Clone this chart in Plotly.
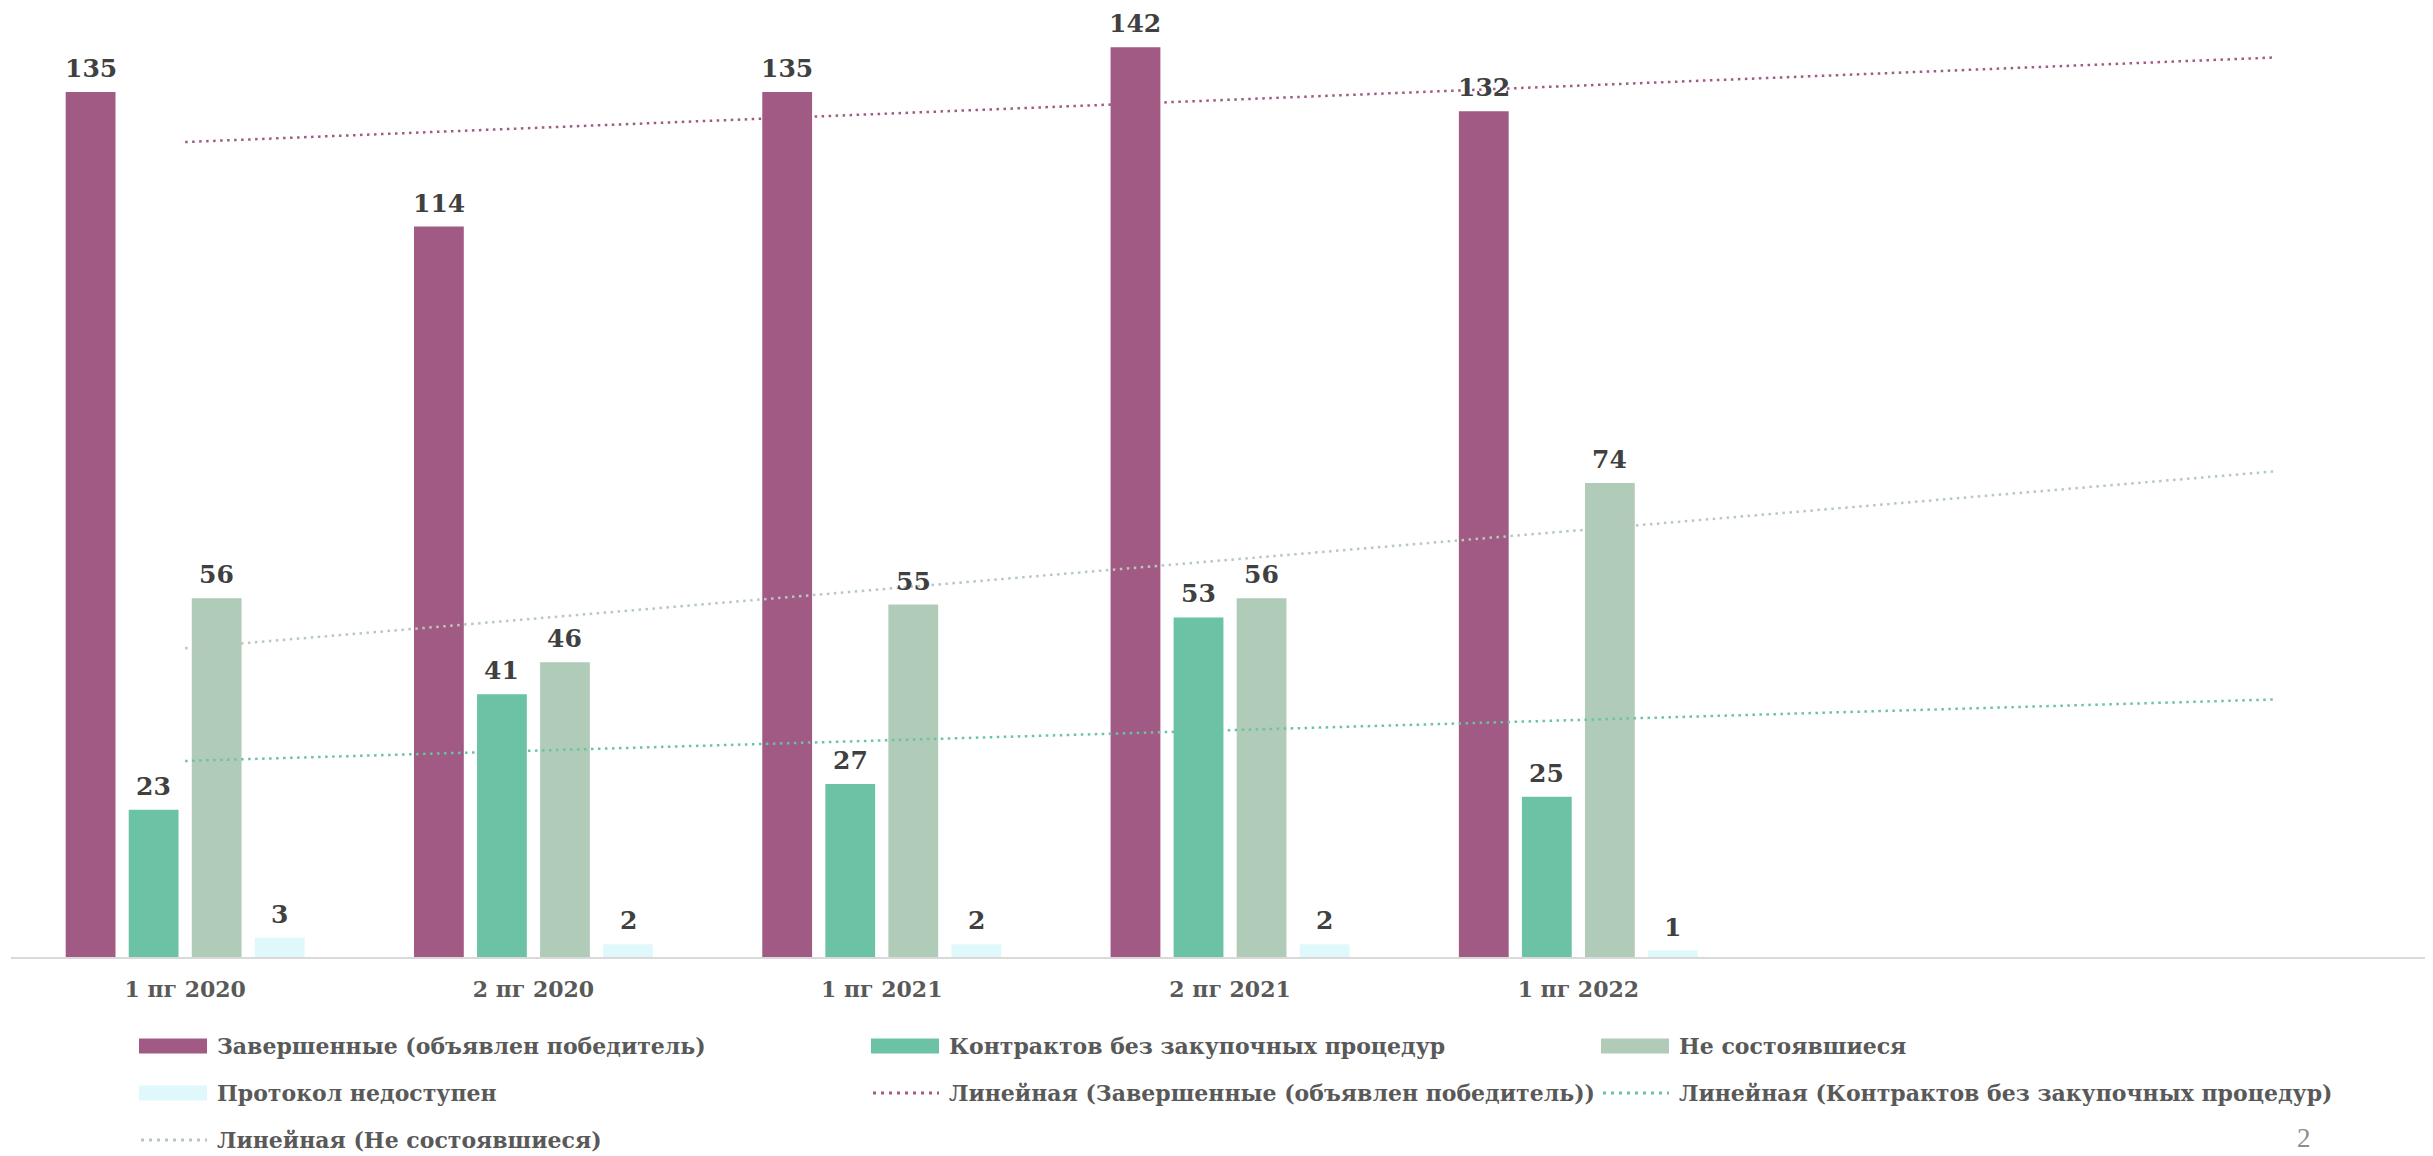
import numpy as np
import plotly.graph_objects as go

# ---------------- data ----------------
categories = ["1 пг 2020", "2 пг 2020", "1 пг 2021", "2 пг 2021", "1 пг 2022"]
series_names = [
    "Завершенные (объявлен победитель)",
    "Контрактов без закупочных процедур",
    "Не состоявшиеся",
    "Протокол недоступен",
]
completed = [135, 114, 135, 142, 132]
no_procurement = [23, 41, 27, 53, 25]
failed = [56, 46, 55, 56, 74]
unavailable = [3, 2, 2, 2, 1]
trend_names = [
    "Линейная (Завершенные (объявлен победитель))",
    "Линейная (Контрактов без закупочных процедур)",
    "Линейная (Не состоявшиеся)",
]
trend_forward_periods = 2
page_number = "2"

# ---------------- styles / geometry ----------------
colors = ["#A05A84", "#6BC2A5", "#B1CBB9", "#DFF8FC"]
trend_colors = ["#A05A84", "#6BC2A5", "#B5C9BC"]
PAGE_OFF = 8                      # default body margin of the html page
W, H = 2433 - PAGE_OFF, 1156 - PAGE_OFF
BASE_PAGE = 957                   # y of the category axis on the page
ML = 11 - PAGE_OFF
MT = 0
PLOT_H = BASE_PAGE - PAGE_OFF - MT
MB = H - MT - PLOT_H
MR = 0
PX_PER_CAT = 348.3
PX_PER_UNIT = 6.407
BARGAP, BARGROUPGAP = 0.276, 0.21
FONT = "DejaVu Serif, Liberation Serif, serif"
LABEL_COLOR = "#404040"
TEXT_COLOR = "#595959"
TREND_DASH = "2.5px,4.5px"

plot_w = W - ML - MR
x_range = [-0.5, -0.5 + plot_w / PX_PER_CAT]
y_range = [0, PLOT_H / PX_PER_UNIT]

xs = np.arange(len(categories))
series = [completed, no_procurement, failed, unavailable]

fig = go.Figure()
for name, vals, col in zip(series_names, series, colors):
    fig.add_trace(go.Bar(x=xs, y=vals, name=name, marker=dict(color=col, line=dict(width=0)),
                         showlegend=False, hoverinfo="y"))

# linear trendlines (least squares, forecast forward)
x_tr = np.array([0, len(categories) - 1 + trend_forward_periods])
for vals, col, nm in zip(series[:3], trend_colors, trend_names):
    k, b = np.polyfit(xs, vals, 1)
    fig.add_trace(go.Scatter(x=x_tr, y=k * x_tr + b, mode="lines", name=nm,
                             line=dict(color=col, width=2.5, dash=TREND_DASH),
                             showlegend=False, hoverinfo="skip"))

# data labels
slot = (1 - BARGAP) / len(series)
annotations = []
for j, vals in enumerate(series):
    off = (j - (len(series) - 1) / 2) * slot
    for i, v in enumerate(vals):
        annotations.append(dict(x=i + off, y=v, xref="x", yref="y", text=str(v),
                                showarrow=False, yanchor="bottom", yshift=7,
                                font=dict(family=FONT, size=25, color=LABEL_COLOR, weight="bold")))


def px_x(px):  # page pixel -> paper
    return (px - PAGE_OFF - ML) / plot_w


def px_y(py):
    return (MT + PLOT_H - (py - PAGE_OFF)) / PLOT_H


# custom legend (positions in page pixels)
shapes = []
legend_items = [
    ("bar", colors[0], series_names[0], 139, 1046),
    ("bar", colors[1], series_names[1], 871, 1046),
    ("bar", colors[2], series_names[2], 1601, 1046),
    ("bar", colors[3], series_names[3], 139, 1093),
    ("line", trend_colors[0], trend_names[0], 871, 1093),
    ("line", trend_colors[1], trend_names[1], 1601, 1093),
    ("line", trend_colors[2], trend_names[2], 139, 1140),
]
for kind, col, txt, x0, yc in legend_items:
    if kind == "bar":
        shapes.append(dict(type="rect", xref="paper", yref="paper",
                           x0=px_x(x0), x1=px_x(x0 + 68), y0=px_y(yc - 7.5), y1=px_y(yc + 7.5),
                           fillcolor=col, line=dict(width=0), layer="above"))
    else:
        shapes.append(dict(type="line", xref="paper", yref="paper",
                           x0=px_x(x0 + 2), x1=px_x(x0 + 68), y0=px_y(yc), y1=px_y(yc),
                           line=dict(color=col, width=3, dash="3px,5px"), layer="above"))
    annotations.append(dict(x=px_x(x0 + 76), y=px_y(yc), xref="paper", yref="paper",
                            text=txt, showarrow=False, xanchor="left", yanchor="middle",
                            font=dict(family=FONT, size=22, color=TEXT_COLOR, weight="bold")))

annotations.append(dict(x=px_x(2304), y=px_y(1138), xref="paper", yref="paper",
                        text=page_number, showarrow=False, xanchor="center", yanchor="middle",
                        font=dict(family="Liberation Serif, serif", size=27, color="#8C8C8C")))

fig.update_layout(
    width=W, height=H,
    margin=dict(l=ML, r=MR, t=MT, b=MB, pad=0),
    paper_bgcolor="white", plot_bgcolor="white",
    barmode="group", bargap=BARGAP, bargroupgap=BARGROUPGAP,
    xaxis=dict(range=x_range, tickvals=list(xs), ticktext=categories, showgrid=False,
               zeroline=False, showline=True, linecolor="#D9D9D9", linewidth=2,
               ticks="", ticklabelstandoff=12,
               tickfont=dict(family=FONT, size=22, color=TEXT_COLOR, weight="bold")),
    yaxis=dict(range=y_range, visible=False, showgrid=False, zeroline=False),
    shapes=shapes, annotations=annotations, showlegend=False,
)

fig.write_html("out.html")
